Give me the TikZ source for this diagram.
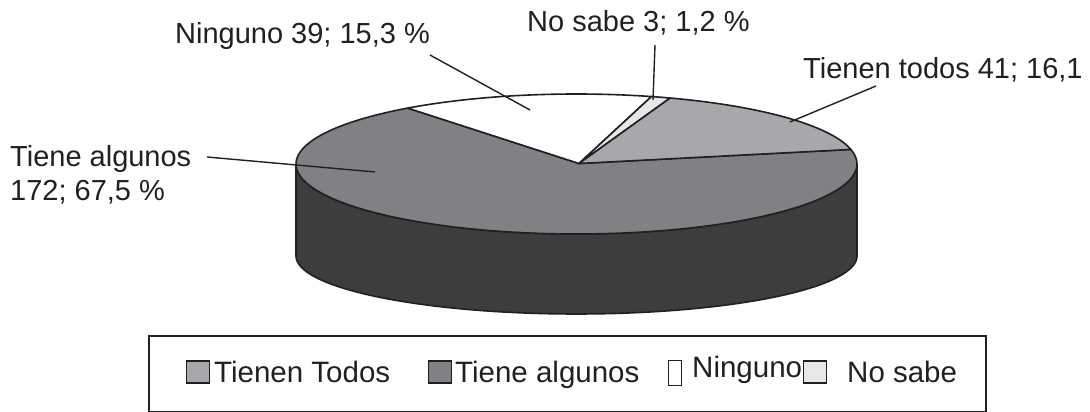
\documentclass[tikz,border=0pt]{standalone}
\usepackage{fontspec}
\setmainfont{Liberation Sans}
\definecolor{cAlg}{HTML}{808185}
\definecolor{cTod}{HTML}{A7A8AB}
\definecolor{cNS}{HTML}{E6E7E8}
\definecolor{cSide}{HTML}{3D3D3E}
\definecolor{cEdge}{HTML}{231F20}
\begin{document}
\begin{tikzpicture}[x=1pt,y=-1pt,
  edge/.style={draw=cEdge,line width=1.6pt,line join=round},
  leader/.style={draw=cEdge,line width=1.4pt},
  lbl/.style={font=\fontsize{29}{35}\selectfont,anchor=base west,inner sep=0pt,text=cEdge},
  leglbl/.style={font=\fontsize{29.5}{35}\selectfont,anchor=base west,inner sep=0pt,text=cEdge},
  legsq/.style={draw=cEdge,line width=1.3pt,inner sep=0pt}]
\useasboundingbox (0,0) rectangle (1090,412);
\def\cx{576.5}\def\cy{164}\def\rx{280.5}\def\ry{70}
\def\by{256}\def\bry{58}
% side of cylinder
\path[edge,fill=cSide]
  plot[domain=180:360,samples=80] ({\cx+\rx*cos(\x)},{\cy-\ry*sin(\x)})
  -- plot[domain=360:180,samples=80] ({\cx+\rx*cos(\x)},{\by-\bry*sin(\x)}) -- cycle;
\coordinate (apex) at (579,163.5);
% Tiene algunos
\path[edge,fill=cAlg] (apex) -- plot[domain=127:372,samples=120] ({\cx+\rx*cos(\x)},{\cy-\ry*sin(\x)}) -- cycle;
% Ninguno
\path[edge,fill=white] (apex) -- plot[domain=74.5:127,samples=40] ({\cx+\rx*cos(\x)},{\cy-\ry*sin(\x)}) -- cycle;
% No sabe
\path[edge,fill=cNS] (apex) -- plot[domain=70.5:74.5,samples=6] ({\cx+\rx*cos(\x)},{\cy-\ry*sin(\x)}) -- cycle;
% Tienen todos
\path[edge,fill=cTod] (apex) -- plot[domain=12:70.5,samples=50] ({\cx+\rx*cos(\x)},{\cy-\ry*sin(\x)}) -- cycle;
% labels
\node[lbl] (lNin) at (175,44) {Ninguno 39; 15,3 \%};
\node[lbl] (lNS) at (527,32) {No sabe 3; 1,2 \%};
\node[lbl] (lTod) at (803,78) {Tienen todos 41; 16,1};
\node[lbl] (lAlg1) at (10,166) {Tiene algunos};
\node[lbl] (lAlg2) at (10,200) {172; 67,5 \%};
% leaders
\coordinate (nA) at (430,55); \coordinate (nB) at (530,110);
\coordinate (sA) at (655,45); \coordinate (sB) at (653,100);
\coordinate (tA) at (876,86); \coordinate (tB) at (790,122);
\coordinate (aA) at (207,157); \coordinate (aB) at (375,172);
\draw[leader] (nA) -- (nB);
\draw[leader] (sA) -- (sB);
\draw[leader] (tA) -- (tB);
\draw[leader] (aA) -- (aB);
% legend
\node[draw=cEdge,line width=1.5pt,minimum width=837pt,minimum height=76pt,anchor=north west,inner sep=0pt] (leg) at (148,335) {};
\node[legsq,fill=cTod,minimum width=23pt,minimum height=22pt] (q1) at (198,372) {};
\node[leglbl] (t1) at (214,382) {Tienen Todos};
\node[legsq,fill=cAlg,minimum width=23pt,minimum height=22pt] (q2) at (440,372) {};
\node[leglbl] (t2) at (455,382) {Tiene algunos};
\node[legsq,fill=white,minimum width=13pt,minimum height=25pt] (q3) at (675,373) {};
\node[leglbl] (t3) at (692,377) {Ninguno};
\node[legsq,fill=cNS,minimum width=23pt,minimum height=22pt] (q4) at (815,372) {};
\node[leglbl] (t4) at (847,382) {No sabe};
\end{tikzpicture}
\end{document}
